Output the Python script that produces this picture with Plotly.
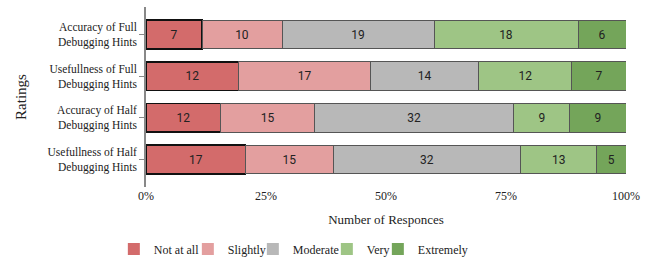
import plotly.graph_objects as go

categories = ["Usefullness of Half<br>Debugging Hints", "Accuracy of Half<br>Debugging Hints",
              "Usefullness of Full<br>Debugging Hints", "Accuracy of Full<br>Debugging Hints"]
levels = ["Not at all", "Slightly", "Moderate", "Very", "Extremely"]
not_at_all = [17, 12, 12, 7]
slightly = [15, 15, 17, 10]
moderate = [32, 32, 14, 19]
very = [13, 9, 12, 18]
extremely = [5, 9, 7, 6]
series = [not_at_all, slightly, moderate, very, extremely]
colors = ["#d36b6b", "#e39f9f", "#b8b8b8", "#9ec585", "#74a55a"]
line_colors = ["#111111", "#555555", "#555555", "#555555", "#555555"]
line_widths = [1.5, 1, 1, 1, 1]
legend_widths = [29, 20, 29, 6, 50]
tick_vals = [0, 25, 50, 75, 100]
tick_text = ["0%", "25%", "50%", "75%", "100%"]

SERIF = "Liberation Serif"
fig = go.Figure()
for name, vals, c, lc, lw in zip(levels, series, colors, line_colors, line_widths):
    fig.add_trace(go.Bar(
        y=categories, x=vals, name=name, orientation="h", showlegend=False,
        marker=dict(color=c, line=dict(color=lc, width=lw)),
        text=vals, texttemplate="%{text}", textposition="inside",
        insidetextanchor="middle",
        textfont=dict(family="Roboto", size=12, color="#222222"),
        width=0.69,
    ))
# legend entries (plain squares, no outline)
for name, c, w in zip(levels, colors, legend_widths):
    fig.add_trace(go.Bar(
        y=[categories[0]], x=[None], name=name, orientation="h", showlegend=True,
        marker=dict(color=c, line=dict(width=0)), legendwidth=w, hoverinfo="skip",
    ))

fig.update_layout(
    barmode="stack", barnorm="percent",
    width=649, height=260,
    margin=dict(l=146, r=23, t=7, b=73, autoexpand=False),
    paper_bgcolor="white", plot_bgcolor="white",
    font=dict(family=SERIF, size=13, color="#222222"),
    showlegend=True,
    legend=dict(orientation="h", x=-0.067, xanchor="left", y=-0.345, yanchor="middle",
                font=dict(family=SERIF, size=12), traceorder="normal",
                itemwidth=30),
)
fig.update_xaxes(range=[0, 100], tickvals=tick_vals, ticktext=tick_text, automargin=False,
                 showgrid=False, zeroline=False, showline=False, ticks="",
                 tickfont=dict(family=SERIF, size=12),
                 title=dict(text="Number of Responces", font=dict(family=SERIF, size=13), standoff=12))
fig.update_yaxes(range=[-0.66, 3.66], showgrid=False, zeroline=False, automargin=False,
                 categoryorder="array", categoryarray=categories,
                 showline=True, linecolor="#888888", linewidth=1.5,
                 ticks="outside", ticklen=5, tickcolor="#888888",
                 tickfont=dict(family=SERIF, size=11.5),
                 title=dict(text="Ratings", font=dict(family=SERIF, size=15), standoff=17))

fig.write_html("out.html", config={"displayModeBar": False},
               post_script="document.body.style.margin='0';document.body.style.overflow='hidden';")
